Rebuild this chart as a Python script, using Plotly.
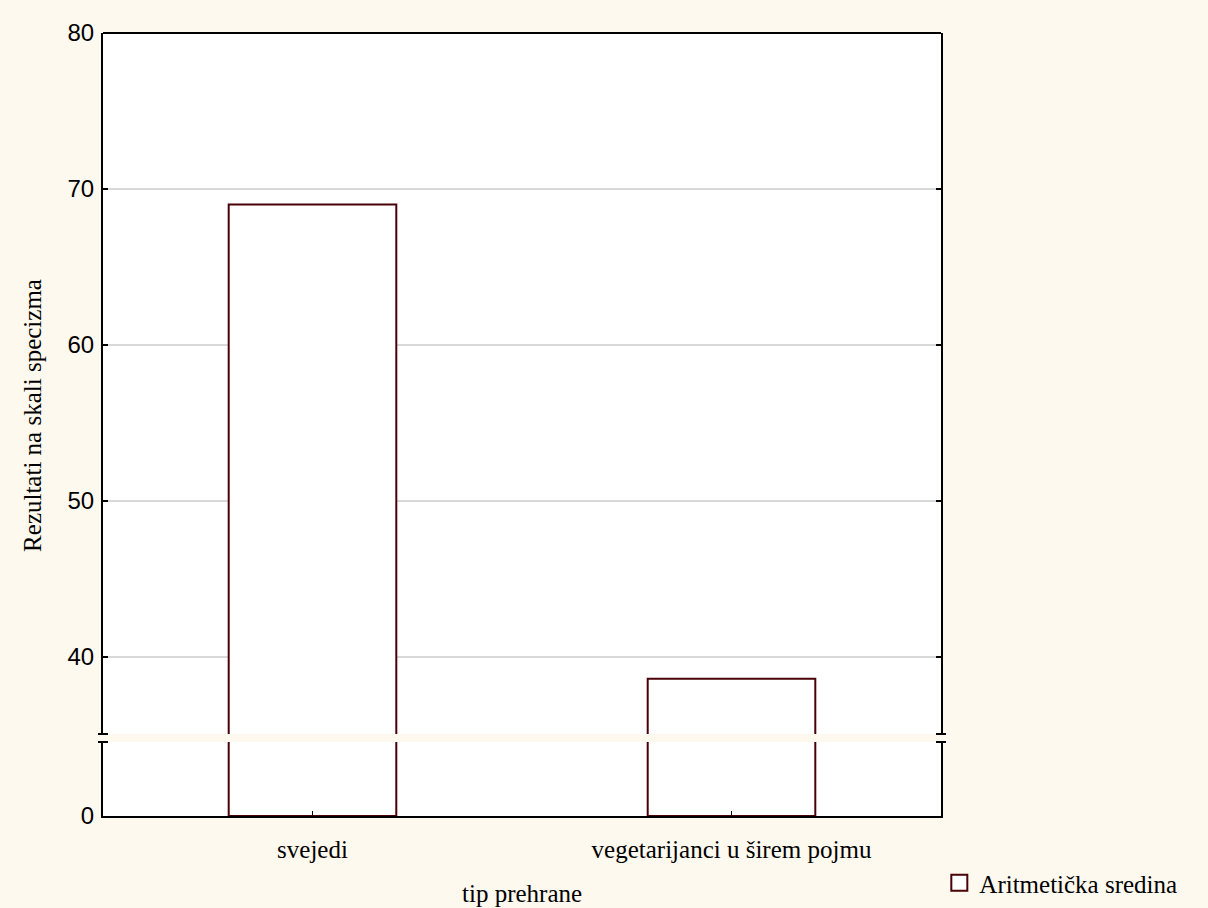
import plotly.graph_objects as go

categories = ["svejedi", "vegetarijanci u širem pojmu"]
means = [69.0, 38.6]
y_tick_vals_top = [40, 50, 60, 70, 80]
y_tick_vals_bottom = [0]
series_name = "Aritmetička sredina"
x_title = "tip prehrane"
y_title = "Rezultati na skali specizma"

BG = "#FEF9EE"
BAR_LINE = "#4A0008"
SERIF = "Liberation Serif, Times New Roman, serif"
SANS = "Liberation Sans, Arial, sans-serif"

W, H = 1208, 908
L, R, T, B = 103, 941, 33, 816
plot_h = B - T
bot_top_px = 742
top_bot_px = 734
dom_bottom = [0, (B - bot_top_px) / plot_h]
dom_top = [(B - top_bot_px) / plot_h, 1]

bar_marker = dict(color="white", line=dict(color=BAR_LINE, width=2))

fig = go.Figure()
fig.add_trace(go.Bar(x=categories, y=means, yaxis="y", width=0.4,
                     marker=bar_marker, name=series_name, showlegend=False))
fig.add_trace(go.Bar(x=categories, y=means, yaxis="y2", width=0.4,
                     marker=bar_marker, name=series_name, showlegend=False))
# legend entry (square symbol like the reference)
fig.add_trace(go.Scatter(x=[None], y=[None], mode="markers", name=series_name,
                         marker=dict(symbol="square", size=20, color="white",
                                     line=dict(color=BAR_LINE, width=2)),
                         showlegend=True))

axis_common = dict(showline=True, linecolor="black", linewidth=2, mirror="ticks",
                   ticks="inside", ticklen=5, tickcolor="black", tickwidth=1.5,
                   tickfont=dict(family=SANS, size=24, color="black"), zeroline=False,
                   ticklabelstandoff=2)

fig.update_layout(
    width=W, height=H,
    margin=dict(l=L, r=W - R, t=T, b=H - B, pad=0, autoexpand=False),
    paper_bgcolor=BG, plot_bgcolor="white",
    barmode="overlay",
    xaxis=dict(range=[-0.5, 1.5], showline=True, linecolor="black", linewidth=2,
               ticks="inside", ticklen=5, tickcolor="black", showgrid=False,
               tickfont=dict(family=SERIF, size=25, color="black"), anchor="y",
               ticklabelstandoff=10),
    yaxis=dict(domain=dom_bottom, range=[0, 5], tickvals=y_tick_vals_bottom,
               showgrid=False, **axis_common),
    yaxis2=dict(domain=dom_top, range=[35.06, 80], tickvals=y_tick_vals_top,
                showgrid=True, gridcolor="#D9D9D9", gridwidth=1.5, anchor="x",
                **axis_common),
    legend=dict(x=0.998, xanchor="left", yref="container", y=1 - 883 / H,
                yanchor="middle", bgcolor="rgba(0,0,0,0)", itemwidth=30,
                font=dict(family=SERIF, size=25, color="black")),
    showlegend=True,
)

# top frame line
fig.add_shape(type="line", xref="paper", yref="paper", x0=0, x1=1, y0=1, y1=1,
              line=dict(color="black", width=2))
# break marks
mark_w = 5 / (R - L)
for xc in (0, 1):
    for yy in (dom_bottom[1], dom_top[0]):
        fig.add_shape(type="line", xref="paper", yref="paper",
                      x0=xc - mark_w, x1=xc + mark_w, y0=yy, y1=yy,
                      line=dict(color="black", width=2))

fig.add_annotation(text=y_title, xref="paper", yref="paper", x=0, y=0.511,
                   xanchor="center", yanchor="middle",
                   xshift=-70, textangle=-90, showarrow=False,
                   font=dict(family=SERIF, size=25, color="black"))
fig.add_annotation(text=x_title, xref="paper", yref="paper", x=0.5, y=0,
                   xanchor="center", yanchor="middle",
                   yshift=-77, showarrow=False,
                   font=dict(family=SERIF, size=25, color="black"))

fig.write_html("out.html", config={"displayModeBar": False},
               post_script="document.body.style.margin='0';")
